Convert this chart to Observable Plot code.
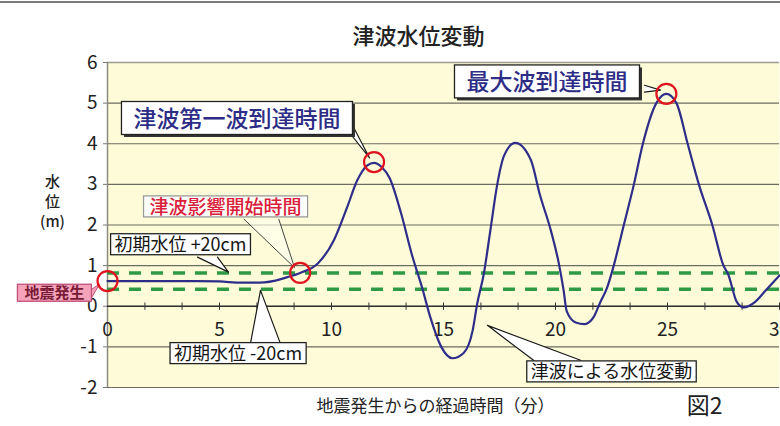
<!DOCTYPE html>
<html>
<head>
<meta charset="utf-8">
<script src="https://cdn.jsdelivr.net/npm/d3@7"></script>
<script src="https://cdn.jsdelivr.net/npm/@observablehq/plot@0.6"></script>
<style>
  html, body { margin: 0; padding: 0; background: #fff; overflow: hidden; }
  #wrap { position: relative; width: 780px; height: 426px; }
  #topline { position: absolute; left: 0; top: 1px; width: 780px; height: 2px; background: #7a7a7a; }
</style>
</head>
<body>
<div id="wrap"><div id="topline"></div><div id="chart"></div></div>
<script>
// ---- Data ----
const chartTitle = "津波水位変動";
const xTitle = "地震発生からの経過時間（分）";
const yTitle = "水\n位\n(m)";
const figLabel = "図2";

// elapsed time (min) and water level (m)
const timeMin = [0, 1, 2, 3, 4, 5, 6, 7, 7.5, 8, 8.6, 9.4, 10.1, 10.7, 11.15, 11.6, 11.9, 12.25, 12.6, 13.1, 13.6, 14.05, 14.4, 14.9, 15.4, 15.9, 16.3, 16.5, 16.8, 17.1, 17.4, 17.7, 18.2, 18.9, 19.3, 19.8, 20.15, 20.36, 20.5, 20.9, 21.3, 21.7, 22.0, 22.3, 22.6, 23.05, 23.5, 23.9, 24.5, 24.95, 25.4, 25.9, 26.4, 27.0, 27.5, 27.7, 28.1, 28.4, 28.9, 29.4, 30];
const waterLevel = [0.62, 0.62, 0.62, 0.62, 0.62, 0.61, 0.58, 0.59, 0.63, 0.71, 0.82, 1.06, 1.62, 2.44, 3.1, 3.47, 3.53, 3.42, 3.15, 2.3, 1.25, 0.45, -0.25, -1.0, -1.28, -1.15, -0.6, 0.05, 0.8, 1.9, 3.0, 3.7, 4.02, 3.6, 2.75, 1.85, 1.05, 0.4, -0.12, -0.4, -0.44, -0.27, 0.1, 0.45, 1.0, 2.0, 3.0, 4.0, 5.0, 5.23, 5.0, 4.0, 3.0, 2.0, 1.0, 0.8, 0.1, -0.03, 0.1, 0.4, 0.76];

// initial level ±20cm
const bandLevels = [0.82, 0.42];

// marked moments (circles)
const markTime = [0, 8.6, 11.9, 24.95];
const markLevel = [0.62, 0.82, 3.55, 5.23];

// axis ticks
const yTicks = [-2, -1, 0, 1, 2, 3, 4, 5, 6];
const xLabels = [0, 5, 10, 15, 20, 25, 30];
const xMinorTicks = [1.67, 3.33, 5, 6.67, 8.33, 10, 11.67, 13.33, 15, 16.67, 18.33, 20, 21.67, 23.33, 25, 26.67, 28.33, 30];

// callouts: label, anchor (time, level), kind
const calloutLabel = ["津波第一波到達時間", "最大波到達時間", "津波影響開始時間", "初期水位 +20cm", "初期水位 -20cm", "津波による水位変動", "地震発生"];
const calloutTime = [5.78, 19.62, 5.27, 3.26, 5.83, 22.5, -2.37];
const calloutLevel = [4.6, 5.5, 2.43, 1.5, -1.18, -1.63, 0.31];
const calloutKind = ["wave", "wave", "start", "plain", "plain", "plain", "quake"];

// callout pointers: three points (base, tip, base) each
const pointerId = [0, 0, 0, 1, 1, 1, 2, 2, 2, 3, 3, 3, 4, 4, 4, 5, 5, 5, 6, 6, 6];
const pointerTime = [10.85, 11.7, 10.85, 23.97, 24.69, 23.97, 6.1, 8.35, 7.65, 4.02, 5.4, 4.91, 6.38, 6.83, 7.72, 19.02, 16.96, 21.12, -0.7, -0.35, -0.7];
const pointerLevel = [4.55, 3.65, 4.24, 5.44, 5.32, 5.27, 2.14, 0.95, 2.14, 1.21, 0.84, 1.21, -0.92, 0.39, -0.92, -1.33, -0.47, -1.33, 0.42, 0.55, 0.22];

// ---- Build tables ----
const series = timeMin.map((t, i) => ({t, v: waterLevel[i]}));
const marks = markTime.map((t, i) => ({t, v: markLevel[i]}));
const callouts = calloutLabel.map((label, i) => ({label, t: calloutTime[i], v: calloutLevel[i], kind: calloutKind[i]}));
const pointers = pointerId.map((id, i) => ({id, t: pointerTime[i], v: pointerLevel[i], kind: calloutKind[id]}));

const FONT = "Noto Sans CJK JP";

const kindStyle = {
  wave:  {color: "#2d2d86", fontSize: 23, fill: "#ffffff", stroke: "#222", padX: 12, padY: 5, shadow: true, weight: 500},
  start: {color: "#d8203a", fontSize: 19, fill: "#fffffb", stroke: "#9a9a9a", padX: 6, padY: 1, shadow: false, weight: 500},
  plain: {color: "#151515", fontSize: 18, fill: "#ffffff", stroke: "#222", padX: 4, padY: 1.5, shadow: false, weight: 400},
  quake: {color: "#7a1a36", fontSize: 15, fill: "#f5a3bb", stroke: "#c0507a", padX: 7, padY: 1, shadow: false, weight: 700}
};

const calloutMarks = Object.keys(kindStyle).map(kind => {
  const s = kindStyle[kind];
  return Plot.text(callouts.filter(d => d.kind === kind), {
    x: "t", y: "v", text: "label",
    fill: s.color, fontSize: s.fontSize, fontWeight: s.weight,
    fontFamily: FONT, textAnchor: "middle"
  });
});

const svg = Plot.plot({
  width: 780,
  height: 426,
  marginLeft: 107,
  marginRight: 1,
  marginTop: 62,
  marginBottom: 39,
  style: {fontFamily: FONT, background: "transparent", overflow: "visible"},
  x: {domain: [0, 30], axis: null},
  y: {domain: [-2, 6], axis: null},
  marks: [
    Plot.frame({fill: "#fefcd8", stroke: "none"}),
    Plot.ruleY(yTicks.filter(d => d !== 0 && d !== 6), {stroke: "#6b6b60", strokeWidth: 1.2}),
    Plot.ruleY([6], {stroke: "#9a9a90", strokeWidth: 1.5}),
    Plot.ruleX([0], {stroke: "#8a8a80", strokeWidth: 1.5}),
    Plot.ruleY(bandLevels, {stroke: "#2f9a45", strokeWidth: 3.4, strokeDasharray: "12,10"}),
    Plot.ruleY([0], {stroke: "#2a2a2a", strokeWidth: 1.3}),
    Plot.ruleX(xMinorTicks, {y1: -0.1, y2: 0.08, stroke: "#333", strokeWidth: 1}),
    Plot.axisY({ticks: yTicks, label: null, tickSize: 4, tickPadding: 6, fontSize: 19, stroke: "#777", fill: "#222", tickFormat: d => d < 0 ? "-" + Math.abs(d) : String(d)}),
    Plot.text(xLabels, {x: d => d, y: 0, dy: 24, fontSize: 19, fill: "#222", text: d => String(d)}),
    Plot.line(series, {x: "t", y: "v", stroke: "#2e2e8a", strokeWidth: 2.2, curve: "monotone-x"}),
    // pointers
    Plot.line(pointers.filter(d => d.kind === "wave" || d.kind === "plain"), {x: "t", y: "v", z: "id", fill: "#ffffff", stroke: "#1a1a1a", strokeWidth: 1.2, curve: "linear"}),
    Plot.line(pointers.filter(d => d.kind === "start"), {x: "t", y: "v", z: "id", fill: "#fffff0", fillOpacity: 0.6, stroke: "#444", strokeWidth: 1, curve: "linear"}),
    Plot.line(pointers.filter(d => d.kind === "quake"), {x: "t", y: "v", z: "id", fill: "#f5a3bb", stroke: "#c0507a", strokeWidth: 1, curve: "linear"}),
    ...calloutMarks,
    Plot.dot(marks, {x: "t", y: "v", r: 10, stroke: "#e0141e", strokeWidth: 2.2, fill: "none"}),
    // titles
    Plot.text([chartTitle], {frameAnchor: "top", dx: -25, dy: -34, fontSize: 22, fill: "#222", fontWeight: 500}),
    Plot.text([xTitle], {frameAnchor: "bottom", dx: -8, dy: 24, fontSize: 17, fill: "#222"}),
    Plot.text([figLabel], {frameAnchor: "bottom", dx: 261, dy: 26, fontSize: 23, fill: "#222"}),
    Plot.text([yTitle], {frameAnchor: "left", dx: -55, dy: -24, fontSize: 15, lineHeight: 1.33, fill: "#222", fontWeight: 500, textAnchor: "middle"})
  ]
});

document.getElementById("chart").append(svg);

// boxes behind callout labels
const byLabel = new Map(callouts.map(d => [d.label, kindStyle[d.kind]]));
const NS = "http://www.w3.org/2000/svg";
svg.querySelectorAll("text").forEach(t => {
  const s = byLabel.get(t.textContent);
  if (!s) return;
  const b = t.getBBox();
  const fs = s.fontSize;
  const w = b.width + 2 * s.padX;
  const h = fs + 2 * s.padY;
  const x = b.x - s.padX;
  const y = -0.06 * fs - h / 2;
  const tr = t.getAttribute("transform");
  if (s.shadow) {
    const sh = document.createElementNS(NS, "rect");
    sh.setAttribute("x", x + 2.5); sh.setAttribute("y", y + 2.5);
    sh.setAttribute("width", w); sh.setAttribute("height", h);
    sh.setAttribute("fill", "#333");
    if (tr) sh.setAttribute("transform", tr);
    t.parentNode.insertBefore(sh, t);
  }
  const r = document.createElementNS(NS, "rect");
  r.setAttribute("x", x); r.setAttribute("y", y);
  r.setAttribute("width", w); r.setAttribute("height", h);
  r.setAttribute("fill", s.fill);
  r.setAttribute("stroke", s.stroke);
  r.setAttribute("stroke-width", 1.3);
  if (tr) r.setAttribute("transform", tr);
  t.parentNode.insertBefore(r, t);
});
</script>
</body>
</html>
